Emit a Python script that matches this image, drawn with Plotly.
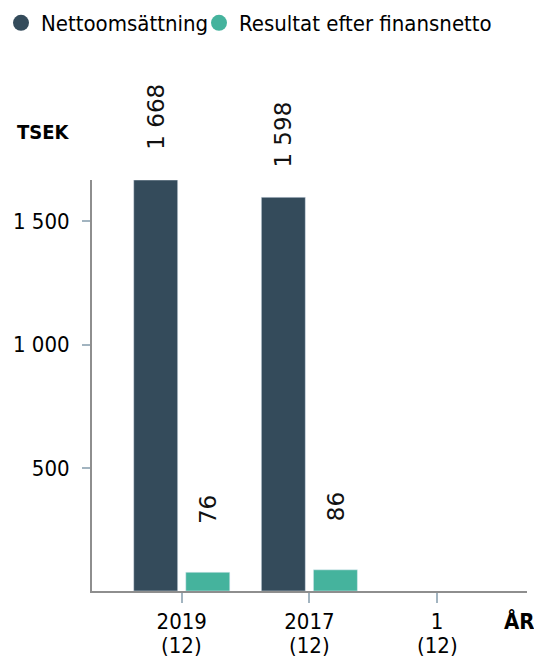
import plotly.graph_objects as go

years = ["2019", "2017", "1"]
counts = ["(12)", "(12)", "(12)"]
netto = [1668, 1598, None]
resultat = [76, 86, None]
series_names = ["Nettoomsättning", "Resultat efter finansnetto"]
y_tickvals = [500, 1000, 1500]
y_ticktext = ["500", "1 000", "1 500"]

DARK = "#344b5b"
TEAL = "#45b39d"
FONT = "DejaVu Sans Condensed, DejaVu Sans, sans-serif"
TICKCOL = "#a2b4c0"
AXCOL = "#8e8e8e"

BARGAP = 0.184
BARGROUPGAP = 0.155

W, H = 534, 651  # page body has an 8px margin inside the 542x659 window
ML, MR, MT, MB = 84, 15, 172, 68
PW, PH = W - ML - MR, H - MT - MB

fig = go.Figure()
fig.add_trace(go.Bar(x=years, y=netto, marker_color=DARK, showlegend=False,
                     name=series_names[0]))
fig.add_trace(go.Bar(x=years, y=resultat, marker_color=TEAL, showlegend=False,
                     name=series_names[1]))
# legend entries with circular symbols, one legend per entry for placement
for nm, col, lg in zip(series_names, [DARK, TEAL], ["legend", "legend2"]):
    fig.add_trace(go.Scatter(x=[None], y=[None], mode="markers", name=nm,
                             legend=lg,
                             marker=dict(symbol="circle", size=17, color=col)))

offset = (1 - BARGAP) / 4
annotations = []
for i in range(len(years)):
    for vals, sgn in ((netto, -1), (resultat, 1)):
        v = vals[i]
        if v is None:
            continue
        annotations.append(dict(
            x=i + sgn * offset, y=v, xref="x", yref="y",
            text=f"{v:,}".replace(",", " "), showarrow=False,
            textangle=-90, xanchor="center", yanchor="middle", yshift=63,
            font=dict(family="DejaVu Sans, sans-serif", size=23, color="#111"),
        ))
    annotations.append(dict(
        x=i, y=0, xref="x", yref="paper", text=counts[i], showarrow=False,
        xanchor="center", yanchor="middle", yshift=-54,
        font=dict(family=FONT, size=22, color="#000"),
    ))

annotations.append(dict(text="<b>TSEK</b>", xref="paper", yref="paper",
                        x=-0.178, y=1.117, xanchor="left", yanchor="middle",
                        showarrow=False, font=dict(family=FONT, size=20, color="#000")))
annotations.append(dict(text="<b>ÅR</b>", xref="paper", yref="paper",
                        x=0.943, y=-0.075, xanchor="left", yanchor="middle",
                        showarrow=False, font=dict(family=FONT, size=22, color="#000")))

legend_common = dict(orientation="h", xref="paper", yref="paper",
                     y=1 + (MT + 6) / PH, xanchor="left", yanchor="top",
                     font=dict(family=FONT, size=22, color="#000"),
                     itemsizing="trace", bgcolor="rgba(0,0,0,0)")

fig.update_layout(
    width=W, height=H,
    margin=dict(l=ML, r=MR, t=MT, b=MB, autoexpand=False),
    paper_bgcolor="white", plot_bgcolor="white",
    barmode="group", bargap=BARGAP, bargroupgap=BARGROUPGAP,
    font=dict(family=FONT, size=22, color="#000"),
    legend=dict(x=(-7 - ML) / PW, **legend_common),
    legend2=dict(x=(191 - ML) / PW, **legend_common),
    annotations=annotations,
    xaxis=dict(type="category", range=[-0.703, 2.705], showline=True,
               linecolor=AXCOL, linewidth=2, ticks="outside", ticklen=10,
               tickcolor=TICKCOL, tickwidth=2, showgrid=False, zeroline=False,
               automargin=False,
               tickfont=dict(family=FONT, size=22, color="#000")),
    yaxis=dict(range=[0, 1668], showline=True, linecolor=AXCOL, linewidth=2,
               ticks="outside", ticklen=8, tickcolor=TICKCOL, tickwidth=2,
               tickvals=y_tickvals, ticktext=y_ticktext, showgrid=False,
               zeroline=False, ticklabelstandoff=8, automargin=False,
               tickfont=dict(family=FONT, size=22, color="#000")),
)

fig.write_html("out.html")
